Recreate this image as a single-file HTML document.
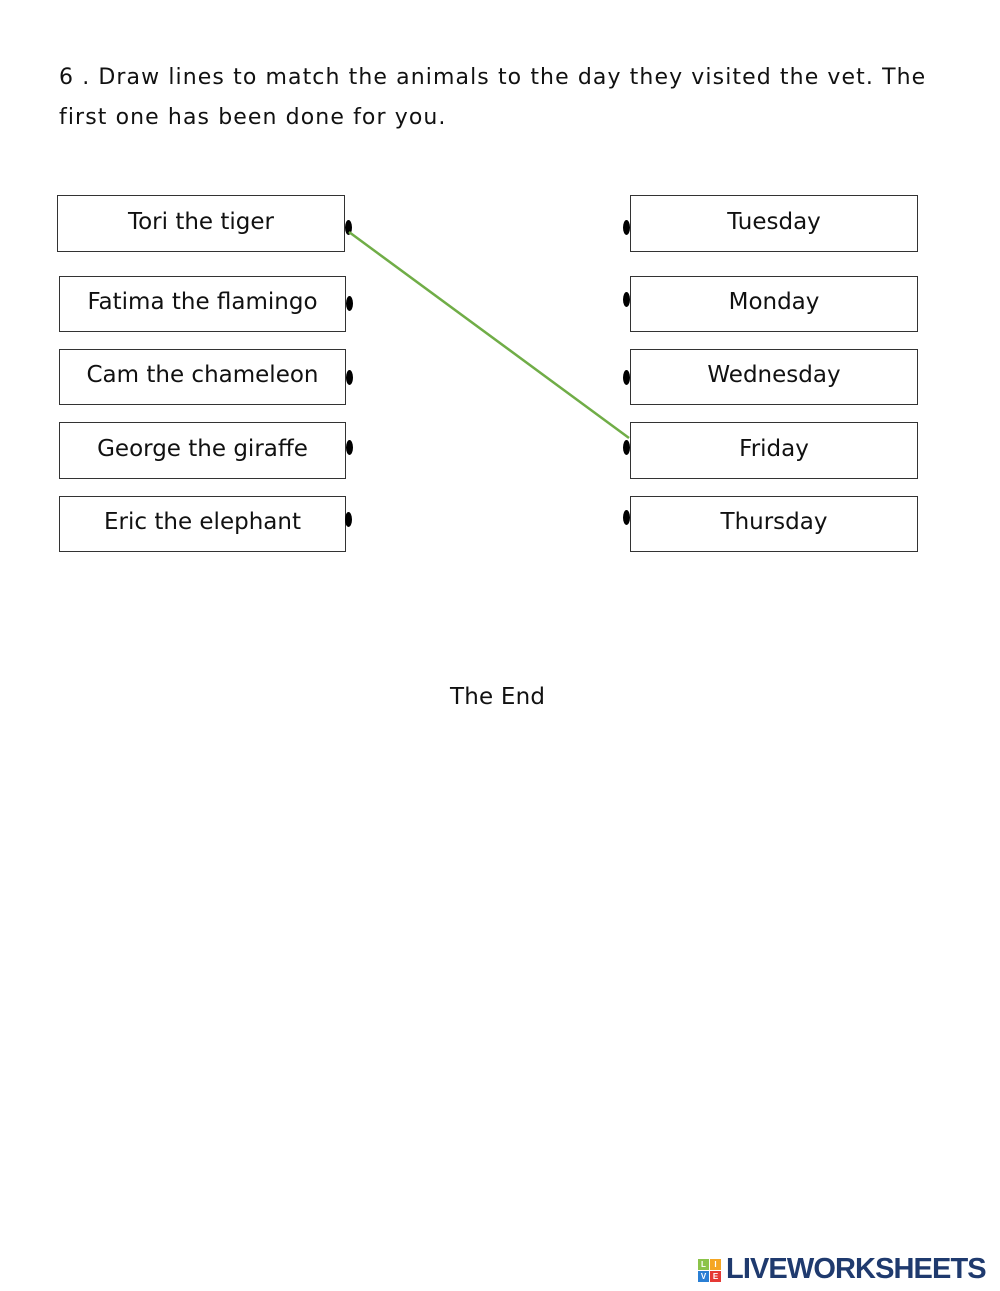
<!DOCTYPE html>
<html><head><meta charset="utf-8"><style>
html,body{margin:0;padding:0;background:#fff;}
body{width:1000px;height:1291px;position:relative;overflow:hidden;font-family:"DejaVu Sans","Liberation Sans",sans-serif;color:#111;}
.t{position:absolute;font-size:23px;letter-spacing:0.2px;white-space:nowrap;}
.b{position:absolute;border:1.3px solid #333;box-sizing:border-box;display:flex;align-items:center;justify-content:center;font-size:23px;padding-bottom:4px;}
.d{position:absolute;width:7px;height:15px;border-radius:50%;background:#000;}
.logo{position:absolute;left:726px;top:1253px;font-family:"Liberation Sans",sans-serif;font-weight:bold;font-size:29px;color:#1f3a6e;letter-spacing:-0.9px;}
.sq{position:absolute;width:11px;height:11px;font-size:8px;color:#fff;font-weight:bold;font-family:"Liberation Sans",sans-serif;text-align:center;line-height:11px;}
</style></head><body>
<div class="t" style="left:59px;top:65px;font-size:22px;letter-spacing:1.1px">6 . Draw lines to match the animals to the day they visited the vet. The</div>
<div class="t" style="left:59px;top:105px;font-size:22px;letter-spacing:1.1px">first one has been done for you.</div>

<div class="b" style="left:57px;top:195px;width:288px;height:57px">Tori the tiger</div>
<div class="b" style="left:59px;top:276px;width:287px;height:56px">Fatima the flamingo</div>
<div class="b" style="left:59px;top:349px;width:287px;height:56px">Cam the chameleon</div>
<div class="b" style="left:59px;top:422px;width:287px;height:57px">George the giraffe</div>
<div class="b" style="left:59px;top:496px;width:287px;height:56px">Eric the elephant</div>

<div class="b" style="left:630px;top:195px;width:288px;height:57px">Tuesday</div>
<div class="b" style="left:630px;top:276px;width:288px;height:56px">Monday</div>
<div class="b" style="left:630px;top:349px;width:288px;height:56px">Wednesday</div>
<div class="b" style="left:630px;top:422px;width:288px;height:57px">Friday</div>
<div class="b" style="left:630px;top:496px;width:288px;height:56px">Thursday</div>

<div class="d" style="left:345px;top:220px"></div>
<div class="d" style="left:346px;top:296px"></div>
<div class="d" style="left:346px;top:370px"></div>
<div class="d" style="left:346px;top:440px"></div>
<div class="d" style="left:345px;top:512px"></div>
<div class="d" style="left:623px;top:220px"></div>
<div class="d" style="left:623px;top:292px"></div>
<div class="d" style="left:623px;top:370px"></div>
<div class="d" style="left:623px;top:440px"></div>
<div class="d" style="left:623px;top:510px"></div>

<svg style="position:absolute;left:0;top:0" width="1000" height="1291"><line x1="349" y1="232" x2="629" y2="438" stroke="#70ad47" stroke-width="2.5"/></svg>

<div class="t" style="left:450px;top:684px">The End</div>

<div class="sq" style="left:698px;top:1259px;background:#8bc34a">L</div>
<div class="sq" style="left:710px;top:1259px;background:#f5a623">I</div>
<div class="sq" style="left:698px;top:1271px;background:#2a7fd4">V</div>
<div class="sq" style="left:710px;top:1271px;background:#e53935">E</div>
<div class="logo">LIVEWORKSHEETS</div>
</body></html>
